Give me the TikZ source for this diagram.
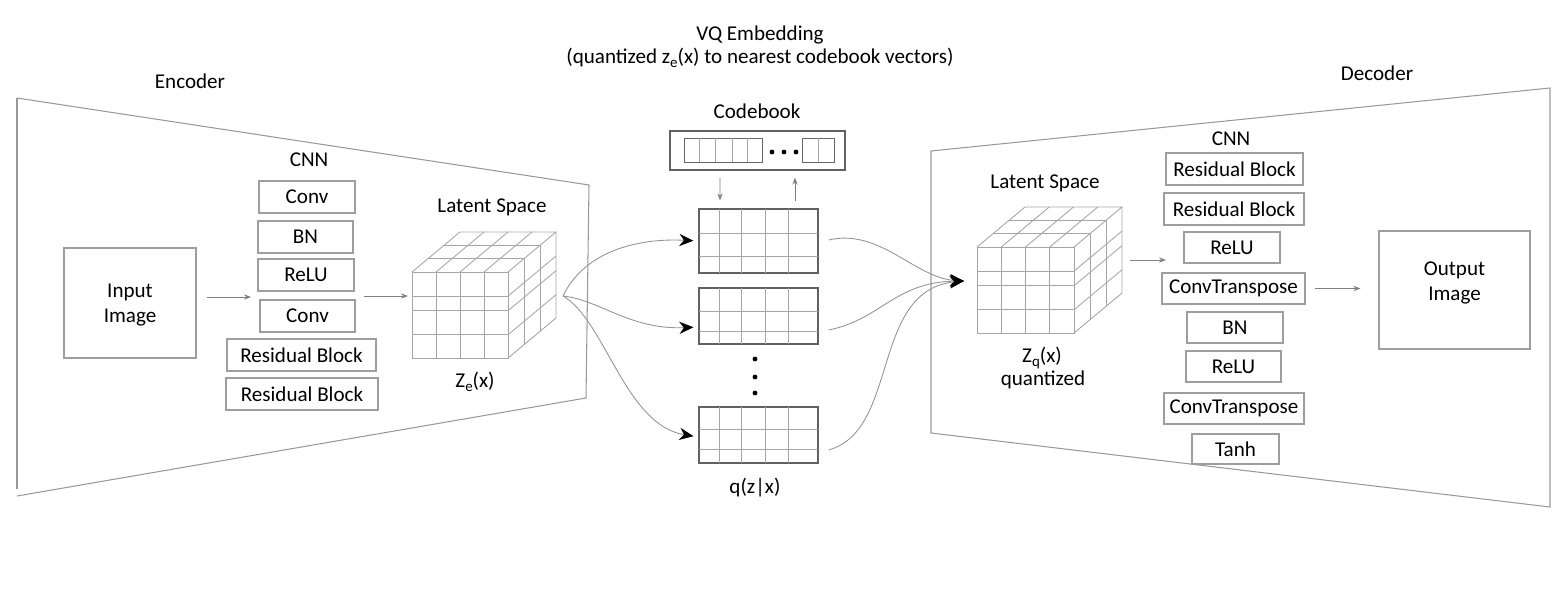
\documentclass[tikz,border=0pt]{standalone}
\usepackage{fontspec}
\setmainfont{Carlito}
\usetikzlibrary{arrows.meta,fit}
\newcommand\vqcube[4]{% x, y of front top-left, width, height
\begin{scope}[shift={(#1,#2)}]
 \draw[gridln] (0,0) rectangle (#3,#4);
 \foreach \t in {0.25,0.5,0.75} \draw[gridln] (#3*\t,0)--(#3*\t,#4);
 \foreach \t in {0.28,0.45,0.73} \draw[gridln] (0,#4*\t)--(#3,#4*\t);
 \draw[gridln] (0,0)--(48,-40)--(#3+48,-40)--(#3,0);
 \foreach \t in {0.25,0.5,0.75} \draw[gridln] (#3*\t,0)--++(48,-40);
 \foreach \t in {0.333,0.667} \draw[gridln] (48*\t,-40*\t)--++(#3,0);
 \draw[gridln] (#3+48,-40)--(#3+48,#4-40)--(#3,#4);
 \foreach \t in {0.333,0.667} \draw[gridln] (#3+48*\t,-40*\t)--++(0,#4);
 \foreach \t in {0.28,0.45,0.73} \draw[gridln] (#3,#4*\t)--++(48,-40);
\end{scope}}
\newcommand\vqsub[1]{\raisebox{-0.35ex}{\fontsize{8.5}{9}\selectfont #1}}
\begin{document}
\begin{tikzpicture}[x=0.02cm,y=-0.02cm,
  box/.style={draw=black!38, line width=0.6pt, inner sep=0pt},
  vbox/.style={draw=black!62, line width=0.7pt, inner sep=0pt},
  lbl/.style={font=\fontsize{12}{14.5}\selectfont, text=black, inner sep=0pt, align=center},
  frame/.style={draw=black!40, line width=0.6pt},
  arr/.style={draw=black!50, line width=0.5pt, -{Stealth[length=4pt,width=3pt]}},
  curv/.style={draw=black!42, line width=0.5pt, -{Stealth[length=8pt,width=7pt,black]}},
  gridln/.style={draw=black!35, line width=0.5pt}]
\useasboundingbox (0,0) rectangle (1565,602);

% ---------------- Encoder ----------------
\node[lbl] (enc) at (190,81) {Encoder};
\draw[frame] (17,98) -- (589,185) -- (586,398) -- (17,496);
\draw[frame] (17,98) -- (17,489);
\node[lbl] (cnn1) at (309,160) {CNN};
\node[box, fit={(259,181)(355,213)}, label={[lbl]center:Conv}] (c1) {};
\node[box, fit={(258,221)(353,253)}, label={[lbl]center:BN}] (bn1) {};
\node[box, fit={(258,259)(354,291)}, label={[lbl]center:ReLU}] (r1) {};
\node[box, fit={(260,300)(355,332)}, label={[lbl]center:Conv}] (c2) {};
\node[box, fit={(227,339)(376,371)}, label={[lbl]center:Residual Block}] (rb1) {};
\node[box, fit={(226,378)(378,410)}, label={[lbl]center:Residual Block}] (rb2) {};
\node[box, fit={(64,248)(196,358)}, label={[lbl,yshift=-0.04cm]center:Input\\Image}] (in) {};
\coordinate (cnnL) at (251,297);
\coordinate (cnnR) at (364,296);
\coordinate (zeL) at (408,296);
\draw[arr, shorten <=0.2cm] (in.east |- cnnL) -- (cnnL);
\draw[arr] (cnnR) -- (zeL);
\node[lbl] (ls1) at (492,207) {Latent Space};
\vqcube{412}{272}{96}{86}
\node[lbl] (ze) at (475,382) {Z\vqsub{e}(x)};
\coordinate (zeR) at (563,296);

% ---------------- VQ ----------------
\node[lbl] (vq) at (760,35) {VQ Embedding};
\node[lbl] (vq2) at (760,58) {(quantized z\vqsub{e}(x) to nearest codebook vectors)};
\node[lbl] (cbl) at (757,111) {Codebook};
\node[vbox, fit={(670,131)(845,170)}] (cb) {};
\draw[gridln, draw=black!60] (684,138) rectangle (762,162);
\foreach \x in {699,715,732,747} \draw[gridln] (\x,138)--(\x,162);
\draw[gridln, draw=black!60] (802,138) rectangle (834,162);
\draw[gridln] (818,138)--(818,162);
\foreach \x in {772,784,796} \fill[black] (\x,152) circle (2.4);

\node[vbox, fit={(699,209)(818,273)}] (v1) {};
\node[vbox, fit={(699,288)(818,344)}] (v2) {};
\node[vbox, fit={(699,407)(818,463)}] (v3) {};
\foreach \x in {719,741,765,788} {
  \draw[gridln] (\x,209)--(\x,273);
  \draw[gridln] (\x,288)--(\x,344);
  \draw[gridln] (\x,407)--(\x,463);}
\foreach \y in {233,256,311,331,429,449} \draw[gridln] (699,\y)--(818,\y);
\foreach \y in {359,377,393} \fill[black] (755,\y) circle (2.4);
\node[lbl] (q) at (755,488) {q(z|x)};

\draw[arr] ([xshift=-0.75cm,yshift=-0.14cm]cb.south) -- ([xshift=-0.77cm,yshift=0.16cm]v1.north);
\draw[arr] ([xshift=0.73cm,yshift=0.14cm]v1.north) -- ([xshift=0.75cm,yshift=-0.14cm]cb.south);

\draw[curv, shorten >=0.1cm] (zeR) .. controls (585,250) and (640,238) .. (v1.west);
\draw[curv, shorten >=0.1cm] (zeR) .. controls (600,300) and (630,330) .. ([yshift=-0.22cm]v2.west);
\draw[curv, shorten >=0.1cm] (zeR) .. controls (605,320) and (625,425) .. ([yshift=-0.04cm]v3.west);

\coordinate (zqL) at (964,281);
\draw[curv] ([xshift=0.2cm,yshift=0.02cm]v1.east) .. controls (880,228) and (915,278) .. (zqL);
\draw[curv] ([xshift=0.2cm,yshift=-0.28cm]v2.east) .. controls (880,320) and (895,282) .. (zqL);
\draw[curv] ([xshift=0.2cm,yshift=-0.3cm]v3.east) .. controls (900,430) and (870,290) .. (zqL);

% ---------------- Decoder ----------------
\node[lbl] (dec) at (1377,73) {Decoder};
\draw[frame] (931,151) -- (1550,88) -- (1550,507) -- (931,433) -- cycle;
\node[lbl] (cnn2) at (1231,139) {CNN};
\node[box, fit={(1166,153)(1303,185)}, label={[lbl]center:Residual Block}] (drb1) {};
\node[box, fit={(1164,193)(1304,225)}, label={[lbl]center:Residual Block}] (drb2) {};
\node[box, fit={(1184,232)(1280,263)}, label={[lbl]center:ReLU}] (dr1) {};
\node[box, fit={(1162,273)(1305,304)}, label={[lbl]center:ConvTranspose}] (ct1) {};
\node[box, fit={(1187,312)(1283,343)}, label={[lbl]center:BN}] (dbn) {};
\node[box, fit={(1186,351)(1281,382)}, label={[lbl]center:ReLU}] (dr2) {};
\node[box, fit={(1164,393)(1304,424)}, label={[lbl]center:ConvTranspose}] (ct2) {};
\node[box, fit={(1192,434)(1279,464)}, label={[lbl]center:Tanh}] (th) {};
\node[box, fit={(1379,231)(1530,349)}, label={[lbl,yshift=0.14cm]center:Output\\Image}] (out) {};
\node[lbl] (ls2) at (1045,183) {Latent Space};
\vqcube{977}{247}{97}{86}
\node[lbl] (zq) at (1042,358) {Z\vqsub{q}(x)};
\node[lbl] (quant) at (1043,380) {quantized};
\coordinate (zqR) at (1130,260);
\coordinate (dcnnL) at (1166,260);
\draw[arr] (zqR) -- (dcnnL);
\draw[arr, shorten <=0.18cm, shorten >=0.36cm] (ct1.east) -- (out.west |- ct1.east);
\end{tikzpicture}
\end{document}
